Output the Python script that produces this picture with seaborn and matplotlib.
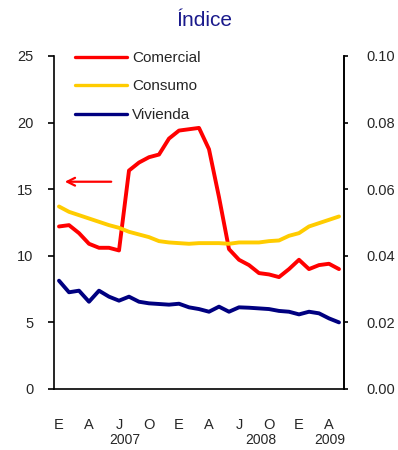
import numpy as np
import pandas as pd
import matplotlib
matplotlib.use('Agg')
import matplotlib.pyplot as plt
import seaborn as sns
from matplotlib.lines import Line2D

# Monthly data, Jan 2007 - May 2009
months = pd.date_range('2007-01-01', '2009-05-01', freq='MS')
comercial = [12.2, 12.3, 11.7, 10.9, 10.6, 10.6, 10.4, 16.4, 17.0, 17.4,
             17.6, 18.8, 19.4, 19.5, 19.6, 18.0, 14.4, 10.5, 9.7, 9.3,
             8.7, 8.6, 8.4, 9.0, 9.7, 9.0, 9.3, 9.4, 9.0]
consumo = [13.7, 13.3, 13.05, 12.8, 12.55, 12.3, 12.1, 11.8, 11.6, 11.4,
           11.1, 11.0, 10.95, 10.9, 10.95, 10.95, 10.95, 10.9, 11.0, 11.0,
           11.0, 11.1, 11.15, 11.5, 11.7, 12.2, 12.45, 12.7, 12.95]
vivienda = [8.13, 7.26, 7.38, 6.55, 7.38, 6.93, 6.63, 6.93, 6.55, 6.43,
            6.38, 6.33, 6.4, 6.13, 6.0, 5.8, 6.18, 5.8, 6.13, 6.1,
            6.05, 6.0, 5.86, 5.8, 5.6, 5.8, 5.68, 5.3, 5.0]
series_names = ['Comercial', 'Consumo', 'Vivienda']
series_colors = ['#FF0000', '#FFCC00', '#000080']
month_letters = ['E', 'A', 'J', 'O', 'E', 'A', 'J', 'O', 'E', 'A']
year_labels = ['2007', '2008', '2009']
year_label_pos = [6.6, 20.2, 27.05]
left_ticks = [0, 5, 10, 15, 20, 25]
right_ticks = [0.0, 0.02, 0.04, 0.06, 0.08, 0.10]

df = pd.DataFrame({'idx': np.arange(len(months)),
                   'Comercial': comercial, 'Consumo': consumo, 'Vivienda': vivienda})
long = df.melt(id_vars='idx', var_name='serie', value_name='valor')

sns.set_style('white')
plt.rcParams['font.family'] = ['Liberation Sans', 'DejaVu Sans']

fig = plt.figure(figsize=(3.98, 4.5), dpi=100)
ax = fig.add_axes([0.1357, 0.1356, 0.7286, 0.74])

sns.lineplot(data=long, x='idx', y='valor', hue='serie', hue_order=series_names,
             palette=series_colors, lw=2.8, ax=ax, legend=False)

ax.set_xlim(-0.5, len(months) - 0.5)
ax.set_ylim(0, 25)
ax.set_yticks(left_ticks)
ax.set_xlabel('')
ax.set_ylabel('')

# ticks at category boundaries, labels at category centres
ax.set_xticks(np.arange(-0.5, len(months) - 1, 3))
ax.set_xticklabels([])
ax.set_xticks(np.arange(0, len(months), 3), minor=True)
ax.set_xticklabels(month_letters, minor=True)
ax.tick_params(axis='x', which='minor', length=0, pad=21, labelsize=10.5)
ax.tick_params(axis='x', which='major', direction='out', length=4, width=1.2, color='black')
ax.tick_params(axis='y', direction='out', length=4, width=1.2, color='black',
               pad=11, labelsize=10.5)

ax.spines['top'].set_visible(False)
for s in ['left', 'right', 'bottom']:
    ax.spines[s].set_color('black')
    ax.spines[s].set_linewidth(1.2)

ax2 = ax.twinx()
ax2.set_ylim(0, 0.10)
ax2.set_yticks(right_ticks)
ax2.set_yticklabels([f'{v:.2f}' for v in right_ticks])
ax2.tick_params(axis='y', direction='out', length=3, width=1.2, color='black',
                pad=13, labelsize=10.5)
ax2.spines['top'].set_visible(False)
ax2.spines['right'].set_color('black')
ax2.spines['right'].set_linewidth(1.2)
ax2.spines['left'].set_visible(False)
ax2.spines['bottom'].set_visible(False)

for lab, xp in zip(year_labels, year_label_pos):
    ax.text(xp, -0.153, lab, transform=ax.get_xaxis_transform(),
            ha='center', va='center', fontsize=10)

# legend
handles = [Line2D([], [], color=c, lw=2.4) for c in series_colors]
ax.legend(handles, series_names, loc='upper left', bbox_to_anchor=(0.072, 1.015),
          frameon=False, fontsize=11, handlelength=3.4, handletextpad=0.35,
          labelspacing=0.95, borderpad=0, borderaxespad=0)

# arrow pointing to the left axis
ax.annotate('', xy=(0.3, 15.56), xytext=(5.5, 15.56),
            arrowprops=dict(arrowstyle='->', color='#FF0000', lw=1.6,
                            mutation_scale=14))

fig.text(0.513, 0.955, 'Índice', ha='center', va='center', fontsize=15,
         color='#1A1A8C')

fig.savefig('out.png', dpi=100)
